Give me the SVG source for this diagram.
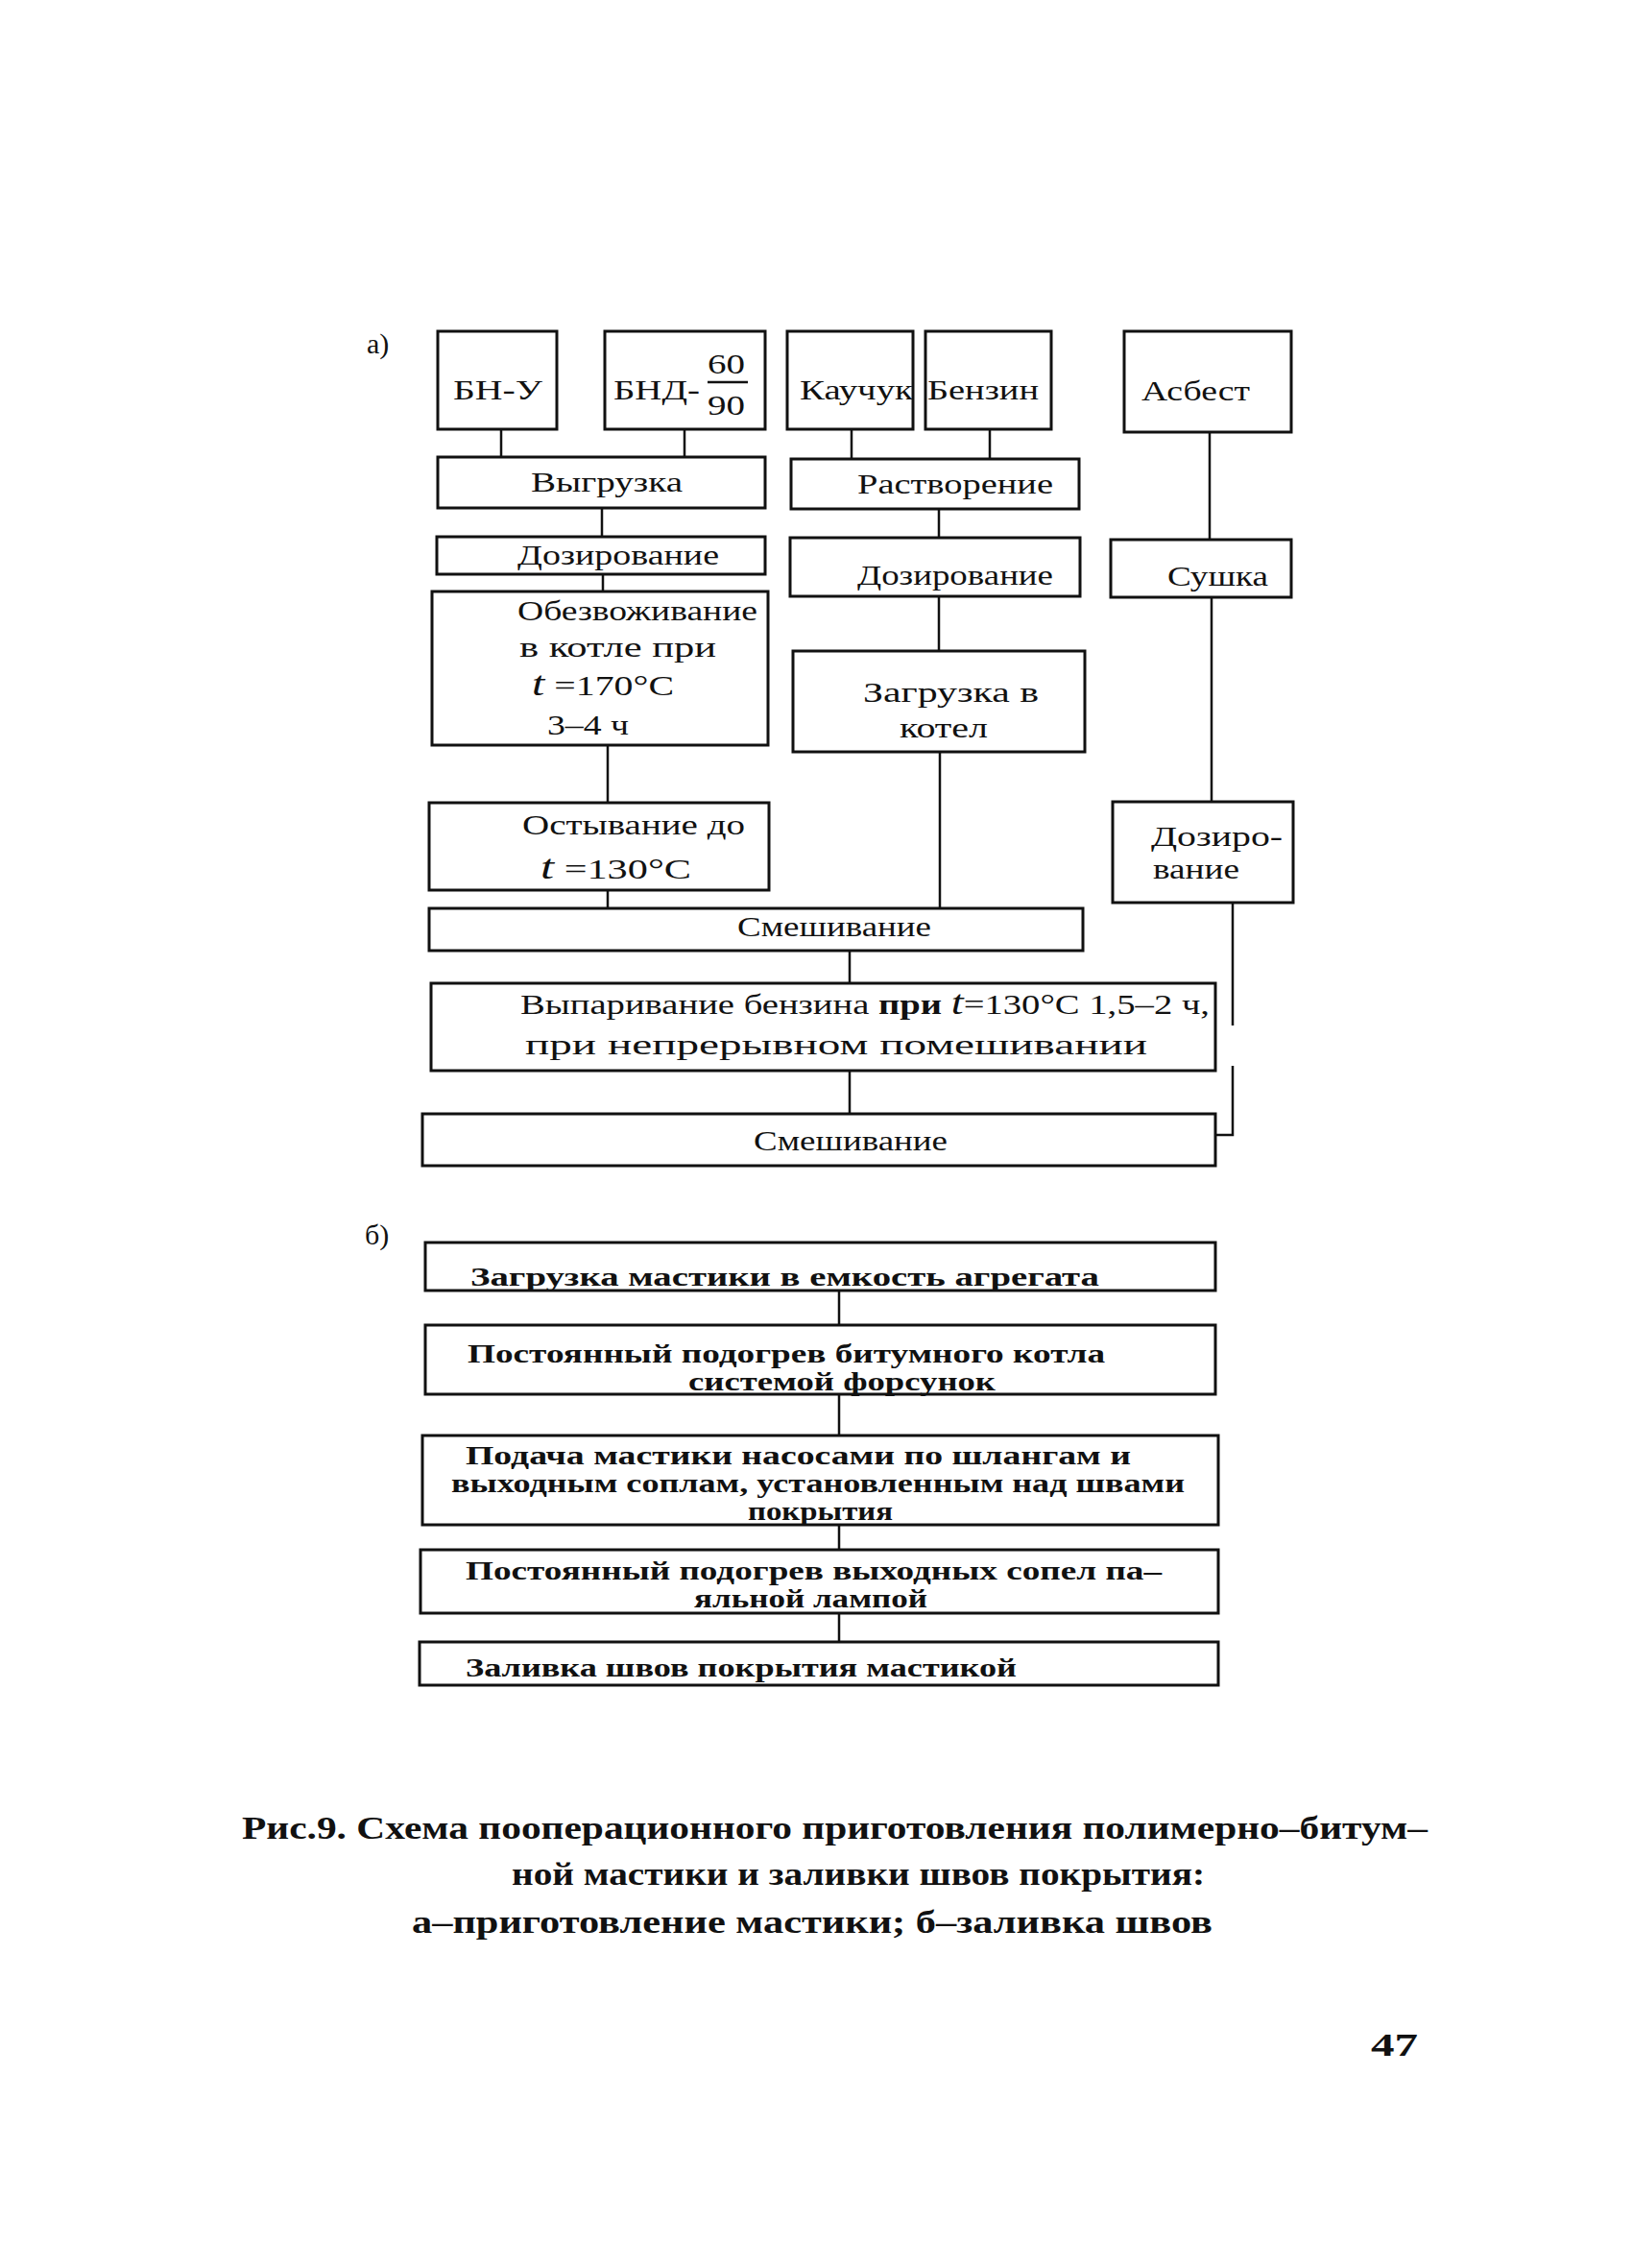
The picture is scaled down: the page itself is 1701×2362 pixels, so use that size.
<svg xmlns="http://www.w3.org/2000/svg" width="1701" height="2362" viewBox="0 0 1701 2362">
<style>
.b{fill:none;stroke:#111;stroke-width:3}
.c{fill:none;stroke:#111;stroke-width:2.5}
.t{font-family:"Liberation Serif",serif;font-size:30px;fill:#111}
.tb{font-family:"Liberation Serif",serif;font-size:28px;font-weight:bold;fill:#111}
.cap{font-family:"Liberation Serif",serif;font-size:34px;font-weight:bold;fill:#111}
.it{font-style:italic;font-size:36px}
</style>
<rect width="1701" height="2362" fill="#fff"/>
<text class="t" x="382" y="368" font-size="32">а)</text>
<text class="t" x="380" y="1296" font-size="32">б)</text>

<g id="connectors">
<path class="c" d="M522 447V476M713 447V476M627 529V559M628 598V616M633 776V836M633 927V946"/>
<path class="c" d="M887 447V478M1031 447V478M978 530V560M978 621V678"/>
<path class="c" stroke-width="1.8" d="M979 783V946"/>
<path class="c" d="M1260 450V562M1262 622V835"/>
<path class="c" d="M1284 940V1068M1284 1110V1182H1266"/>
<path class="c" d="M885 990V1024M885 1115V1160"/>
<path class="c" d="M874 1344V1380M874 1452V1495M874 1588V1614M874 1680V1710"/>
</g>

<g id="n-bnu"><rect class="b" x="456" y="345" width="124" height="102"/><text class="t" x="472" y="416" font-size="32" textLength="93" lengthAdjust="spacingAndGlyphs">БН-У</text></g>
<g id="n-bnd"><rect class="b" x="630" y="345" width="167" height="102"/><text class="t" x="639" y="416" font-size="32" textLength="90" lengthAdjust="spacingAndGlyphs">БНД-</text><text class="t" x="737" y="389" textLength="39" lengthAdjust="spacingAndGlyphs">60</text><path class="c" d="M737 398H779"/><text class="t" x="737" y="432" textLength="39" lengthAdjust="spacingAndGlyphs">90</text></g>
<g id="n-kauchuk"><rect class="b" x="820" y="345" width="131" height="102"/><text class="t" x="833" y="416" textLength="118" lengthAdjust="spacingAndGlyphs">Каучук</text></g>
<g id="n-benzin"><rect class="b" x="964" y="345" width="131" height="102"/><text class="t" x="966" y="416" textLength="116" lengthAdjust="spacingAndGlyphs">Бензин</text></g>
<g id="n-asbest"><rect class="b" x="1171" y="345" width="174" height="105"/><text class="t" x="1189" y="417" textLength="113" lengthAdjust="spacingAndGlyphs">Асбест</text></g>

<g id="n-vygruzka"><rect class="b" x="456" y="476" width="341" height="53"/><text class="t" x="553" y="512" textLength="158" lengthAdjust="spacingAndGlyphs">Выгрузка</text></g>
<g id="n-rastvorenie"><rect class="b" x="824" y="478" width="300" height="52"/><text class="t" x="893" y="514" textLength="204" lengthAdjust="spacingAndGlyphs">Растворение</text></g>
<g id="n-doz1"><rect class="b" x="455" y="559" width="342" height="39"/><text class="t" x="539" y="588" textLength="210" lengthAdjust="spacingAndGlyphs">Дозирование</text></g>
<g id="n-doz2"><rect class="b" x="823" y="560" width="302" height="61"/><text class="t" x="893" y="609" textLength="204" lengthAdjust="spacingAndGlyphs">Дозирование</text></g>
<g id="n-sushka"><rect class="b" x="1157" y="562" width="188" height="60"/><text class="t" x="1216" y="610" textLength="105" lengthAdjust="spacingAndGlyphs">Сушка</text></g>

<g id="n-obezv"><rect class="b" x="450" y="616" width="350" height="160"/>
<text class="t" x="539" y="646" textLength="250" lengthAdjust="spacingAndGlyphs">Обезвоживание</text>
<text class="t" x="541" y="684" textLength="205" lengthAdjust="spacingAndGlyphs">в котле при</text>
<text class="t" x="554" y="724" font-size="32" textLength="148" lengthAdjust="spacingAndGlyphs"><tspan class="it">t</tspan> =170°C</text>
<text class="t" x="570" y="765" textLength="85" lengthAdjust="spacingAndGlyphs">3–4 ч</text></g>

<g id="n-zagruzka"><rect class="b" x="826" y="678" width="304" height="105"/>
<text class="t" x="899" y="731" textLength="183" lengthAdjust="spacingAndGlyphs">Загрузка в</text>
<text class="t" x="937" y="768" textLength="92" lengthAdjust="spacingAndGlyphs">котел</text></g>

<g id="n-ostyv"><rect class="b" x="447" y="836" width="354" height="91"/>
<text class="t" x="544" y="869" textLength="232" lengthAdjust="spacingAndGlyphs">Остывание до</text>
<text class="t" x="563" y="915" font-size="36" textLength="157" lengthAdjust="spacingAndGlyphs"><tspan class="it" font-size="40">t</tspan> =130°C</text></g>

<g id="n-doz3"><rect class="b" x="1159" y="835" width="188" height="105"/>
<text class="t" x="1199" y="881" textLength="137" lengthAdjust="spacingAndGlyphs">Дозиро-</text>
<text class="t" x="1201" y="915" textLength="90" lengthAdjust="spacingAndGlyphs">вание</text></g>

<g id="n-smesh1"><rect class="b" x="447" y="946" width="681" height="44"/><text class="t" x="768" y="975" textLength="202" lengthAdjust="spacingAndGlyphs">Смешивание</text></g>

<g id="n-vypar"><rect class="b" x="449" y="1024" width="817" height="91"/>
<text class="t" x="542" y="1056" textLength="718" lengthAdjust="spacingAndGlyphs">Выпаривание  бензина <tspan font-weight="bold">при</tspan>  <tspan class="it">t</tspan>=130°C 1,5–2 ч,</text>
<text class="t" x="547" y="1098" font-size="34" textLength="648" lengthAdjust="spacingAndGlyphs">при  непрерывном  помешивании</text></g>

<g id="n-smesh2"><rect class="b" x="440" y="1160" width="826" height="54"/><text class="t" x="785" y="1198" textLength="202" lengthAdjust="spacingAndGlyphs">Смешивание</text></g>

<g id="n-b1"><rect class="b" x="443" y="1294" width="823" height="50"/><text class="tb" x="490" y="1339" textLength="655" lengthAdjust="spacingAndGlyphs">Загрузка  мастики  в  емкость  агрегата</text></g>
<g id="n-b2"><rect class="b" x="443" y="1380" width="823" height="72"/>
<text class="tb" x="487" y="1419" textLength="664" lengthAdjust="spacingAndGlyphs">Постоянный  подогрев  битумного  котла</text>
<text class="tb" x="717" y="1448" textLength="320" lengthAdjust="spacingAndGlyphs">системой  форсунок</text></g>
<g id="n-b3"><rect class="b" x="440" y="1495" width="829" height="93"/>
<text class="tb" x="485" y="1525" font-size="27" textLength="693" lengthAdjust="spacingAndGlyphs">Подача  мастики  насосами  по  шлангам  и</text>
<text class="tb" x="470" y="1554" font-size="27" textLength="764" lengthAdjust="spacingAndGlyphs">выходным  соплам, установленным  над  швами</text>
<text class="tb" x="779" y="1583" font-size="26" textLength="151" lengthAdjust="spacingAndGlyphs">покрытия</text></g>
<g id="n-b4"><rect class="b" x="438" y="1614" width="831" height="66"/>
<text class="tb" x="485" y="1645" textLength="725" lengthAdjust="spacingAndGlyphs">Постоянный  подогрев  выходных  сопел  па–</text>
<text class="tb" x="723" y="1674" textLength="243" lengthAdjust="spacingAndGlyphs">яльной  лампой</text></g>
<g id="n-b5"><rect class="b" x="437" y="1710" width="832" height="45"/><text class="tb" x="485" y="1746" textLength="574" lengthAdjust="spacingAndGlyphs">Заливка  швов  покрытия  мастикой</text></g>

<text class="cap" x="252" y="1915" textLength="1235" lengthAdjust="spacingAndGlyphs">Рис.9. Схема пооперационного приготовления полимерно–битум–</text>
<text class="cap" x="533" y="1963" textLength="722" lengthAdjust="spacingAndGlyphs">ной мастики и заливки швов покрытия:</text>
<text class="cap" x="429" y="2013" textLength="834" lengthAdjust="spacingAndGlyphs">а–приготовление мастики; б–заливка  швов</text>
<text class="cap" x="1428" y="2141" font-size="44" textLength="49" lengthAdjust="spacingAndGlyphs">47</text>
</svg>
